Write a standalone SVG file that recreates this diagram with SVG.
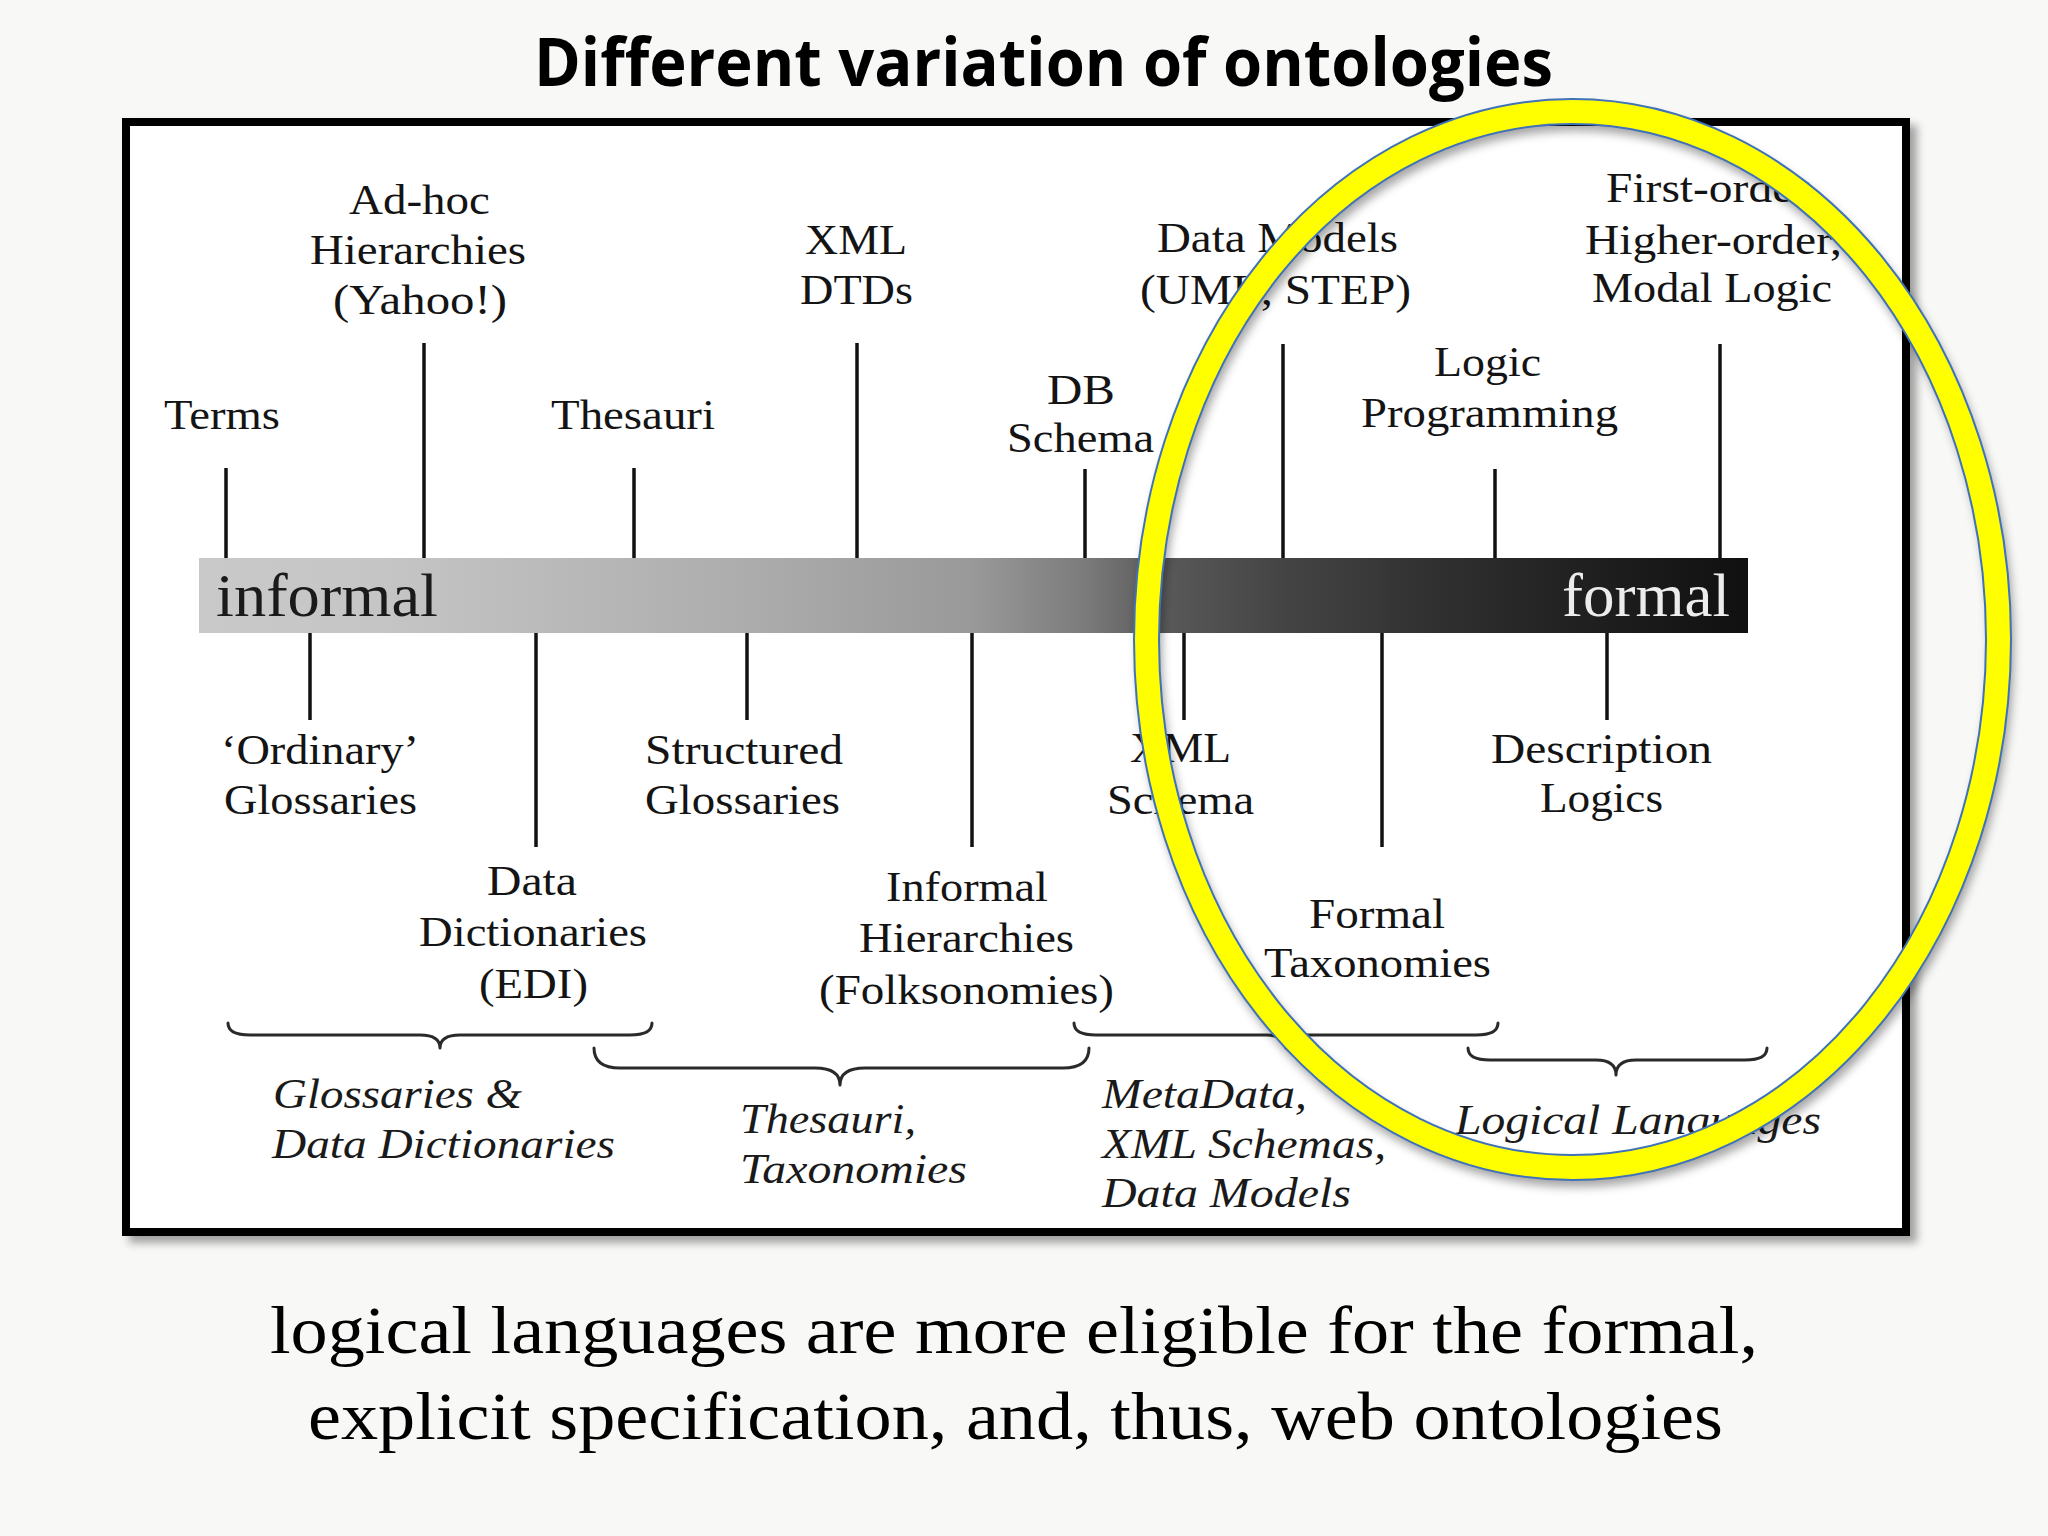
<svg xmlns="http://www.w3.org/2000/svg" width="2048" height="1536" viewBox="0 0 2048 1536">
<defs>
<style>
.lbl{font-family:"Liberation Serif","Times New Roman",serif;font-size:42px;fill:#141414}
.it{font-family:"Liberation Serif","Times New Roman",serif;font-size:42px;font-style:italic;fill:#1a1a1a}
.tick{stroke:#111;stroke-width:3.5;fill:none}
.brace{stroke:#2a2a2a;stroke-width:3;fill:none;stroke-linecap:round;stroke-linejoin:round}
</style>
<linearGradient id="barg" x1="0" y1="0" x2="1" y2="0">
<stop offset="0" stop-color="#c9c9c9"/>
<stop offset="0.12" stop-color="#c5c5c5"/>
<stop offset="0.35" stop-color="#adadad"/>
<stop offset="0.5" stop-color="#999999"/>
<stop offset="0.57" stop-color="#7c7c7c"/>
<stop offset="0.62" stop-color="#5a5a5a"/>
<stop offset="0.7" stop-color="#444444"/>
<stop offset="0.8" stop-color="#303030"/>
<stop offset="0.9" stop-color="#1f1f1f"/>
<stop offset="1" stop-color="#101010"/>
</linearGradient>
<filter id="frameShadow" x="-5%" y="-5%" width="110%" height="110%">
<feDropShadow dx="7" dy="7" stdDeviation="4" flood-color="#000" flood-opacity="0.35"/>
</filter>
<filter id="ringShadow" x="-10%" y="-10%" width="120%" height="120%">
<feDropShadow dx="3" dy="7" stdDeviation="5" flood-color="#000" flood-opacity="0.35"/>
</filter>
</defs>

<rect x="0" y="0" width="2048" height="1536" fill="#f8f8f7"/>

<g id="title">
<text x="534" y="86" textLength="1019" lengthAdjust="spacingAndGlyphs" font-family="'Open Sans','Liberation Sans',sans-serif" font-weight="bold" font-size="66" fill="#000">Different variation of ontologies</text>
</g>

<g id="frame">
<rect x="126" y="122" width="1780" height="1110" fill="#ffffff" stroke="#000" stroke-width="8" filter="url(#frameShadow)"/>
</g>

<g id="bar">
<rect x="199" y="558" width="1549" height="75" fill="url(#barg)"/>
<text x="216" y="616" textLength="222" lengthAdjust="spacingAndGlyphs" font-family="'Liberation Serif','Times New Roman',serif" font-size="62" fill="#1a1a1a">informal</text>
<text x="1562" y="616" textLength="168" lengthAdjust="spacingAndGlyphs" font-family="'Liberation Serif','Times New Roman',serif" font-size="62" fill="#ececec">formal</text>
</g>

<g id="connectors">
<line class="tick" x1="226" y1="468" x2="226" y2="558"/>
<line class="tick" x1="424" y1="343" x2="424" y2="558"/>
<line class="tick" x1="634" y1="468" x2="634" y2="558"/>
<line class="tick" x1="857" y1="343" x2="857" y2="558"/>
<line class="tick" x1="1085" y1="469" x2="1085" y2="558"/>
<line class="tick" x1="1283" y1="344" x2="1283" y2="558"/>
<line class="tick" x1="1495" y1="469" x2="1495" y2="558"/>
<line class="tick" x1="1720" y1="344" x2="1720" y2="558"/>
<line class="tick" x1="310" y1="633" x2="310" y2="720"/>
<line class="tick" x1="536" y1="633" x2="536" y2="847"/>
<line class="tick" x1="747" y1="633" x2="747" y2="720"/>
<line class="tick" x1="972" y1="633" x2="972" y2="847"/>
<line class="tick" x1="1184" y1="633" x2="1184" y2="720"/>
<line class="tick" x1="1382" y1="633" x2="1382" y2="847"/>
<line class="tick" x1="1607" y1="633" x2="1607" y2="720"/>
<path class="brace" d="M228 1023 Q228 1035 250 1035 L420 1035 Q440 1035 440 1048 Q440 1035 460 1035 L630 1035 Q652 1035 652 1023"/>
<path class="brace" d="M594 1048 Q594 1068 620 1068 L815 1068 Q840 1068 840 1085 Q840 1068 865 1068 L1063 1068 Q1089 1068 1089 1048"/>
<path class="brace" d="M1074 1023 Q1074 1035 1096 1035 L1266 1035 Q1286 1035 1286 1048 Q1286 1035 1306 1035 L1476 1035 Q1498 1035 1498 1023"/>
<path class="brace" d="M1468 1048 Q1468 1060 1490 1060 L1596 1060 Q1616 1060 1616 1075 Q1616 1060 1636 1060 L1745 1060 Q1767 1060 1767 1048"/>
</g>

<g id="node-terms"><text class="lbl" x="164" y="429" textLength="116" lengthAdjust="spacingAndGlyphs">Terms</text></g>
<g id="node-adhoc">
<text class="lbl" x="349" y="214" textLength="141" lengthAdjust="spacingAndGlyphs">Ad-hoc</text>
<text class="lbl" x="310" y="264" textLength="216" lengthAdjust="spacingAndGlyphs">Hierarchies</text>
<text class="lbl" x="333" y="314" textLength="174" lengthAdjust="spacingAndGlyphs">(Yahoo!)</text>
</g>
<g id="node-thesauri"><text class="lbl" x="551" y="429" textLength="164" lengthAdjust="spacingAndGlyphs">Thesauri</text></g>
<g id="node-xmldtd">
<text class="lbl" x="805" y="254" textLength="102" lengthAdjust="spacingAndGlyphs">XML</text>
<text class="lbl" x="800" y="304" textLength="113" lengthAdjust="spacingAndGlyphs">DTDs</text>
</g>
<g id="node-dbschema">
<text class="lbl" x="1047" y="404" textLength="68" lengthAdjust="spacingAndGlyphs">DB</text>
<text class="lbl" x="1007" y="452" textLength="147" lengthAdjust="spacingAndGlyphs">Schema</text>
</g>
<g id="node-datamodels">
<text class="lbl" x="1157" y="252" textLength="241" lengthAdjust="spacingAndGlyphs">Data Models</text>
<text class="lbl" x="1140" y="304" textLength="271" lengthAdjust="spacingAndGlyphs">(UML, STEP)</text>
</g>
<g id="node-logicprog">
<text class="lbl" x="1434" y="376" textLength="107" lengthAdjust="spacingAndGlyphs">Logic</text>
<text class="lbl" x="1361" y="427" textLength="257" lengthAdjust="spacingAndGlyphs">Programming</text>
</g>
<g id="node-firstorder">
<text class="lbl" x="1606" y="202" textLength="213" lengthAdjust="spacingAndGlyphs">First-order,</text>
<text class="lbl" x="1585" y="254" textLength="257" lengthAdjust="spacingAndGlyphs">Higher-order,</text>
<text class="lbl" x="1592" y="302" textLength="240" lengthAdjust="spacingAndGlyphs">Modal Logic</text>
</g>

<g id="node-ordinary">
<text class="lbl" x="221" y="764" textLength="198" lengthAdjust="spacingAndGlyphs">‘Ordinary’</text>
<text class="lbl" x="224" y="814" textLength="193" lengthAdjust="spacingAndGlyphs">Glossaries</text>
</g>
<g id="node-datadict">
<text class="lbl" x="487" y="895" textLength="90" lengthAdjust="spacingAndGlyphs">Data</text>
<text class="lbl" x="419" y="946" textLength="228" lengthAdjust="spacingAndGlyphs">Dictionaries</text>
<text class="lbl" x="479" y="998" textLength="109" lengthAdjust="spacingAndGlyphs">(EDI)</text>
</g>
<g id="node-structured">
<text class="lbl" x="645" y="764" textLength="198" lengthAdjust="spacingAndGlyphs">Structured</text>
<text class="lbl" x="645" y="814" textLength="195" lengthAdjust="spacingAndGlyphs">Glossaries</text>
</g>
<g id="node-informalhier">
<text class="lbl" x="886" y="901" textLength="162" lengthAdjust="spacingAndGlyphs">Informal</text>
<text class="lbl" x="859" y="952" textLength="215" lengthAdjust="spacingAndGlyphs">Hierarchies</text>
<text class="lbl" x="819" y="1004" textLength="295" lengthAdjust="spacingAndGlyphs">(Folksonomies)</text>
</g>
<g id="node-xmlschema">
<text class="lbl" x="1130" y="762" textLength="101" lengthAdjust="spacingAndGlyphs">XML</text>
<text class="lbl" x="1107" y="814" textLength="147" lengthAdjust="spacingAndGlyphs">Schema</text>
</g>
<g id="node-formaltax">
<text class="lbl" x="1309" y="928" textLength="136" lengthAdjust="spacingAndGlyphs">Formal</text>
<text class="lbl" x="1264" y="977" textLength="227" lengthAdjust="spacingAndGlyphs">Taxonomies</text>
</g>
<g id="node-desclogics">
<text class="lbl" x="1491" y="763" textLength="221" lengthAdjust="spacingAndGlyphs">Description</text>
<text class="lbl" x="1540" y="812" textLength="123" lengthAdjust="spacingAndGlyphs">Logics</text>
</g>

<g id="group-glossaries">
<text class="it" x="273" y="1108" textLength="249" lengthAdjust="spacingAndGlyphs">Glossaries &amp;</text>
<text class="it" x="272" y="1158" textLength="343" lengthAdjust="spacingAndGlyphs">Data Dictionaries</text>
</g>
<g id="group-thesauri">
<text class="it" x="740" y="1133" textLength="176" lengthAdjust="spacingAndGlyphs">Thesauri,</text>
<text class="it" x="740" y="1183" textLength="227" lengthAdjust="spacingAndGlyphs">Taxonomies</text>
</g>
<g id="group-metadata">
<text class="it" x="1102" y="1108" textLength="205" lengthAdjust="spacingAndGlyphs">MetaData,</text>
<text class="it" x="1102" y="1158" textLength="284" lengthAdjust="spacingAndGlyphs">XML Schemas,</text>
<text class="it" x="1102" y="1207" textLength="249" lengthAdjust="spacingAndGlyphs">Data Models</text>
</g>
<g id="group-logical">
<text class="it" x="1455" y="1134" textLength="366" lengthAdjust="spacingAndGlyphs">Logical Languages</text>
</g>

<g id="highlight-ellipse">
<g filter="url(#ringShadow)">
<ellipse cx="1572.5" cy="639.5" rx="426" ry="528" fill="none" stroke="#ffff00" stroke-width="25"/>
</g>
<ellipse cx="1572.5" cy="639.5" rx="438.5" ry="540.5" fill="none" stroke="#3f72b8" stroke-width="2"/>
<ellipse cx="1572.5" cy="639.5" rx="413.5" ry="515.5" fill="none" stroke="#3f72b8" stroke-width="2"/>
</g>

<g id="caption">
<text x="270" y="1353" textLength="1488" lengthAdjust="spacingAndGlyphs" font-family="'Liberation Serif','Times New Roman',serif" font-size="68" fill="#000">logical languages are more eligible for the formal,</text>
<text x="308" y="1439" textLength="1415" lengthAdjust="spacingAndGlyphs" font-family="'Liberation Serif','Times New Roman',serif" font-size="68" fill="#000">explicit specification, and, thus, web ontologies</text>
</g>
</svg>
